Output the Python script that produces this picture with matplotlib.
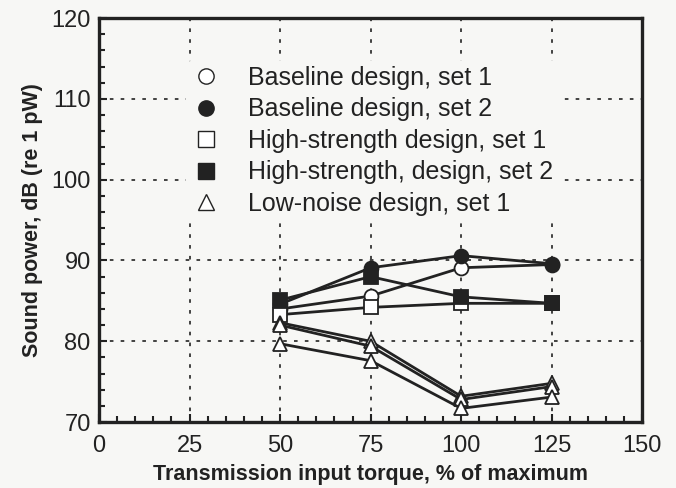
import matplotlib.pyplot as plt
from matplotlib.ticker import MultipleLocator

plt.rcParams['font.family'] = ['Liberation Sans', 'DejaVu Sans']

# torque, % of maximum
torque = [50, 75, 100, 125]

# sound power, dB (re 1 pW)
baseline_1 = [84.0, 85.6, 89.1, 89.5]
baseline_2 = [84.6, 89.1, 90.6, 89.6]
high_str_1 = [83.3, 84.2, 84.7, 84.7]
high_str_2 = [85.1, 88.0, 85.5, 84.7]
low_noise_a = [82.3, 80.0, 73.2, 74.8]
low_noise_b = [82.0, 79.4, 72.8, 74.4]
low_noise_c = [79.7, 77.6, 71.7, 73.1]

labels = ['Baseline design, set 1', 'Baseline design, set 2',
          'High-strength design, set 1', 'High-strength, design, set 2',
          'Low-noise design, set 1']

bg = '#f7f7f5'
fig = plt.figure(figsize=(6.76, 4.88), dpi=100, facecolor=bg)
ax = fig.add_axes([0.1465, 0.135, 0.8035, 0.828], facecolor=bg)

lw = 2.0
ms = 10
common = dict(color='#222222', lw=lw, markersize=ms, markeredgewidth=1.3, markeredgecolor='#222222')

h1, = ax.plot(torque, baseline_1, marker='o', markerfacecolor='white', **common)
h2, = ax.plot(torque, baseline_2, marker='o', markerfacecolor='#222222', **common)
h3, = ax.plot(torque, high_str_1, marker='s', markerfacecolor='white', **common)
h4, = ax.plot(torque, high_str_2, marker='s', markerfacecolor='#222222', **common)
h5, = ax.plot(torque, low_noise_a, marker='^', markerfacecolor='white', **common)
ax.plot(torque, low_noise_b, marker='^', markerfacecolor='white', **common)
ax.plot(torque, low_noise_c, marker='^', markerfacecolor='white', **common)

ax.set_xlim(0, 150)
ax.set_ylim(70, 120)
ax.xaxis.set_major_locator(MultipleLocator(25))
ax.xaxis.set_minor_locator(MultipleLocator(5))
ax.yaxis.set_major_locator(MultipleLocator(10))
ax.yaxis.set_minor_locator(MultipleLocator(2))
ax.tick_params(which='both', direction='in', width=1.5, colors='#222222', labelsize=17)
ax.tick_params(axis='x', pad=9)
ax.tick_params(axis='y', pad=6)
ax.tick_params(which='major', length=6)
ax.tick_params(which='minor', length=4)
for s in ax.spines.values():
    s.set_linewidth(2.4)
    s.set_color('#222222')

ax.grid(True, which='major', linestyle=(0, (2, 4)), color='#333333', lw=1.3)
ax.set_axisbelow(True)

ax.set_xlabel('Transmission input torque, % of maximum', fontsize=15.5, fontweight='bold',
              color='#222222', labelpad=5)
ax.set_ylabel('Sound power, dB (re 1 pW)', fontsize=15.5, fontweight='bold',
              color='#222222', labelpad=6)

# legend: markers only, box hides the grid
mk = []
for h in [h1, h2, h3, h4, h5]:
    mk.append(plt.Line2D([], [], linestyle='none', marker=h.get_marker(),
                         markerfacecolor=h.get_markerfacecolor(), markeredgecolor='#222222',
                         markersize=11, markeredgewidth=1.0))
leg = ax.legend(mk, labels, loc='upper left', bbox_to_anchor=(0.137, 0.925), frameon=True,
                fontsize=18, handletextpad=1.1, labelspacing=0.3, borderpad=0.2,
                handlelength=1.2)
leg.get_frame().set_facecolor(bg)
leg.get_frame().set_edgecolor('none')
leg.get_frame().set_alpha(1)
for t in leg.get_texts():
    t.set_color('#222222')

fig.savefig('out.png', dpi=100, facecolor=bg)
